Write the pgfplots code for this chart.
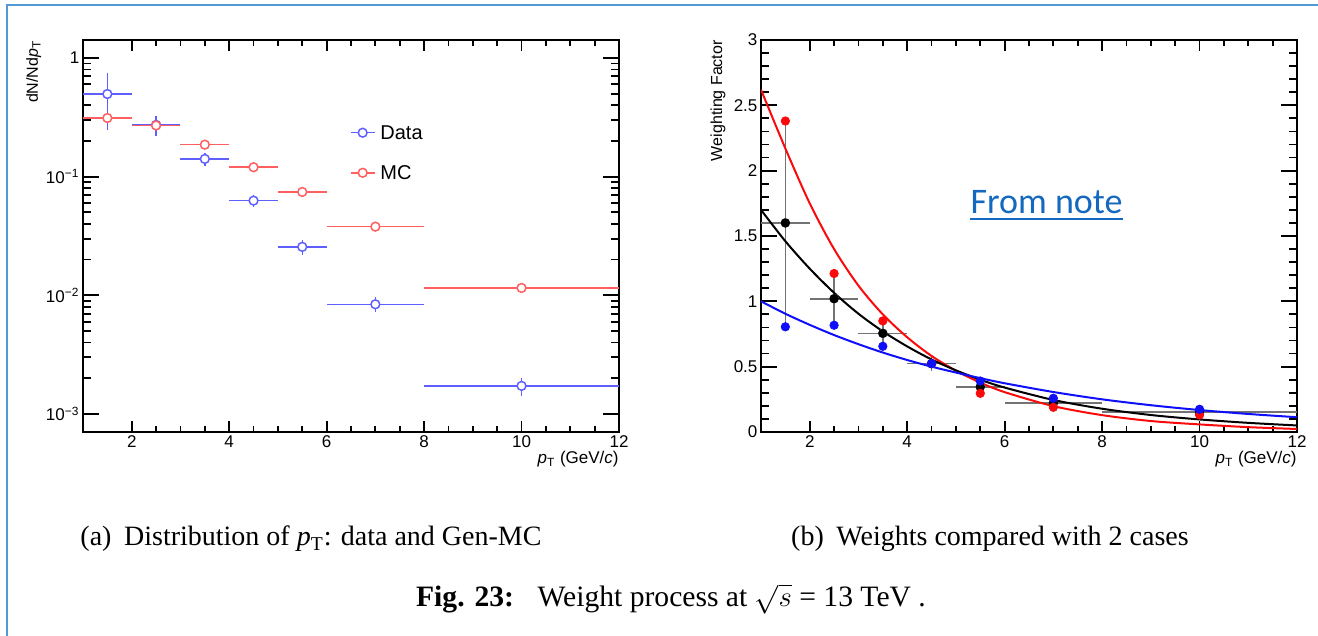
\documentclass[border=0pt]{standalone}
\usepackage{fontspec}
\setmainfont{Liberation Serif}
\newfontfamily\arial{Liberation Sans}
\newfontfamily\carlito{Carlito}
\usepackage{pgfplots}
\pgfplotsset{compat=1.18}
\usepackage{pgfplotstable}

\definecolor{frameblue}{RGB}{80,155,215}
\definecolor{dblue}{RGB}{95,95,255}
\definecolor{mred}{RGB}{255,95,95}
\definecolor{wred}{RGB}{250,10,10}
\definecolor{wblue}{RGB}{15,15,250}
\definecolor{errgray}{RGB}{115,115,115}
\definecolor{notecol}{RGB}{20,105,190}

% Left panel: data and MC pT distributions
\pgfplotstableread{
x y ex ey
1.5 0.497 0.5 0.25
2.5 0.273 0.5 0.053
3.5 0.141 0.5 0.017
4.5 0.0628 0.5 0.0073
5.5 0.0256 0.5 0.0038
7 0.0084 1 0.0012
10 0.001725 2 0.0003
}\datatab
\pgfplotstableread{
x y ex
1.5 0.312 0.5
2.5 0.270 0.5
3.5 0.186 0.5
4.5 0.120 0.5
5.5 0.0743 0.5
7 0.0379 1
10 0.01154 2
}\mctab
% Right panel: weights
\pgfplotstableread{
x y ex eyp eym
1.5 1.600 0.5 0.780 0.795
2.5 1.020 0.5 0.193 0.203
3.5 0.755 0.5 0.095 0.099
4.5 0.523 0.5 0.057 0.057
5.5 0.345 0.5 0.050 0.050
7 0.222 1 0.034 0.034
10 0.151 2 0.025 0.025
}\wtab
\pgfplotstableread{
x y
1.5 2.380
2.5 1.213
3.5 0.850
5.5 0.296
7 0.189
10 0.130
}\wred
\pgfplotstableread{
x y
1.5 0.805
2.5 0.817
3.5 0.656
4.5 0.523
5.5 0.390
7 0.258
10 0.174
}\wblue

\pgfplotsset{rootstyle/.style={
  scale only axis, width=268pt, height=196pt,
  xmin=1, xmax=12, xtick={2,4,6,8,10,12}, minor x tick num=3,
  axis line style={line width=1pt},
  tick align=inside,
  every tick/.style={black, line width=0.9pt},
  xtick style={/pgfplots/major tick length=5.5pt,/pgfplots/minor tick length=2.8pt},
  ytick style={/pgfplots/major tick length=8pt,/pgfplots/minor tick length=4pt},
  ticklabel style={font=\arial\fontsize{8.5}{10}\selectfont, inner sep=1.6pt},
  /pgf/number format/assume math mode=true,
}}

\begin{document}
\begin{tikzpicture}
\path[use as bounding box] (0pt,0pt) rectangle (659pt,318pt);
\draw[frameblue, line width=1pt] (3.3pt,0pt) -- (3.3pt,315.5pt) -- (659pt,315.5pt);

\begin{axis}[rootstyle, name=axA,
  at={(41.5pt,102pt)}, anchor=south west,
  ymode=log, ymin=7.05e-4, ymax=1.418,
  ytick={0.001,0.01,0.1,1},
  yticklabels={10\textsuperscript{−3},10\textsuperscript{−2},10\textsuperscript{−1},1},
  legend style={at={(0.498,0.781)}, anchor=north west, draw=none, fill=none,
    inner sep=0pt, outer sep=0pt, font=\arial\fontsize{10}{12}\selectfont,
    row sep=13.1pt, column sep=2.5pt, nodes={inner sep=0pt, text depth=0pt}},
  legend cell align=left,
  legend image code/.code={
    \draw[#1, mark=none] (0pt,0pt) -- (12pt,0pt);
    \draw[#1, only marks] plot coordinates {(6pt,0pt)};
  },
]
\addplot[dblue, line width=0.75pt, only marks, mark=*, mark size=2.2pt,
  mark options={fill=white, solid},
  error bars/.cd, x dir=both, x explicit, y dir=both, y explicit,
  error mark=none, error bar style={line width=0.75pt}]
  table[x=x, y=y, x error=ex, y error=ey] {\datatab};
\addlegendentry{Data}
\addplot[mred, line width=0.75pt, only marks, mark=*, mark size=2.2pt,
  mark options={fill=white, solid},
  error bars/.cd, x dir=both, x explicit,
  error mark=none, error bar style={line width=0.75pt}]
  table[x=x, y=y, x error=ex] {\mctab};
\addlegendentry{MC}
\end{axis}

\begin{axis}[rootstyle, name=axB,
  at={(380.5pt,102pt)}, anchor=south west,
  ymin=0, ymax=3, ytick={0,0.5,1,1.5,2,2.5,3}, minor y tick num=4,
]
\addplot[errgray, line width=0.8pt, only marks, mark=none,
  error bars/.cd, x dir=both, x explicit, y dir=both, y explicit,
  error mark=none, error bar style={line width=0.8pt, errgray}]
  table[x=x, y=y, x error=ex, y error plus=eyp, y error minus=eym] {\wtab};
\addplot[wred, line width=1pt, smooth, mark=none] coordinates {
 (1,2.62) (1.5,2.17) (2,1.75) (2.5,1.40) (3,1.12) (3.5,0.90) (4,0.725) (4.5,0.582)
 (5,0.469) (5.5,0.378) (6,0.305) (7,0.198) (8,0.129) (9,0.084) (10,0.058) (11,0.037) (12,0.023)};
\addplot[black, line width=1pt, smooth, mark=none] coordinates {
 (1,1.70) (1.5,1.46) (2,1.25) (2.5,1.065) (3,0.905) (3.5,0.77) (4,0.655) (4.5,0.555)
 (5,0.472) (5.5,0.40) (6,0.34) (7,0.245) (8,0.178) (9,0.13) (10,0.096) (11,0.07) (12,0.05)};
\addplot[wblue, line width=1pt, smooth, mark=none] coordinates {
 (1,1.0) (1.5,0.905) (2,0.82) (2.5,0.742) (3,0.672) (3.5,0.608) (4,0.551) (4.5,0.50)
 (5,0.455) (5.5,0.412) (6,0.373) (7,0.306) (8,0.25) (9,0.205) (10,0.168) (11,0.138) (12,0.113)};
\addplot[black, only marks, mark=*, mark size=2.1pt] table[x=x, y=y] {\wtab};
\addplot[wred, only marks, mark=*, mark size=2.1pt] table[x=x, y=y] {\wred};
\addplot[wblue, only marks, mark=*, mark size=2.1pt] table[x=x, y=y] {\wblue};
\end{axis}

% axis titles (ROOT style)
\node[rotate=90, anchor=base east, inner sep=0pt, font=\arial\fontsize{8}{9}\selectfont]
  at ([xshift=-22.5pt]axA.north west) {dN/Nd\textit{p}\textsubscript{T}};
\node[anchor=base east, inner sep=0pt, font=\arial\fontsize{8.5}{10}\selectfont]
  at ([yshift=-16pt]axA.south east) {\textit{p}\textsubscript{T} (GeV/\textit{c})};
\node[rotate=90, anchor=base east, inner sep=0pt, font=\arial\fontsize{8}{9}\selectfont]
  at ([xshift=-19.5pt]axB.north west) {Weighting Factor};
\node[anchor=base east, inner sep=0pt, font=\arial\fontsize{8.5}{10}\selectfont]
  at ([yshift=-16pt]axB.south east) {\textit{p}\textsubscript{T} (GeV/\textit{c})};

% annotation
\node[font=\carlito\fontsize{18}{20}\selectfont, text=notecol, anchor=base, inner sep=0pt]
  (fn) at (523.3pt,211pt) {From note};
\draw[notecol, line width=0.8pt] ([yshift=-2.5pt]fn.base west) -- ([yshift=-2.5pt]fn.base east);

% captions
\node[anchor=base, inner sep=0pt, font=\fontsize{14}{16}\selectfont] at (155.5pt,45pt)
  {(a)\hspace{0.45em}Distribution of \textit{p}\textsubscript{T}: data and Gen-MC};
\node[anchor=base, inner sep=0pt, font=\fontsize{14}{16}\selectfont] at (495pt,45pt)
  {(b)\hspace{0.45em}Weights compared with 2 cases};
\node[anchor=base, inner sep=0pt, font=\fontsize{14.8}{17}\selectfont] at (335.5pt,14.5pt)
  {\textbf{Fig. 23:}\hspace{0.8em}Weight process at $\sqrt{s}$ = 13 TeV .};
\end{tikzpicture}
\end{document}
